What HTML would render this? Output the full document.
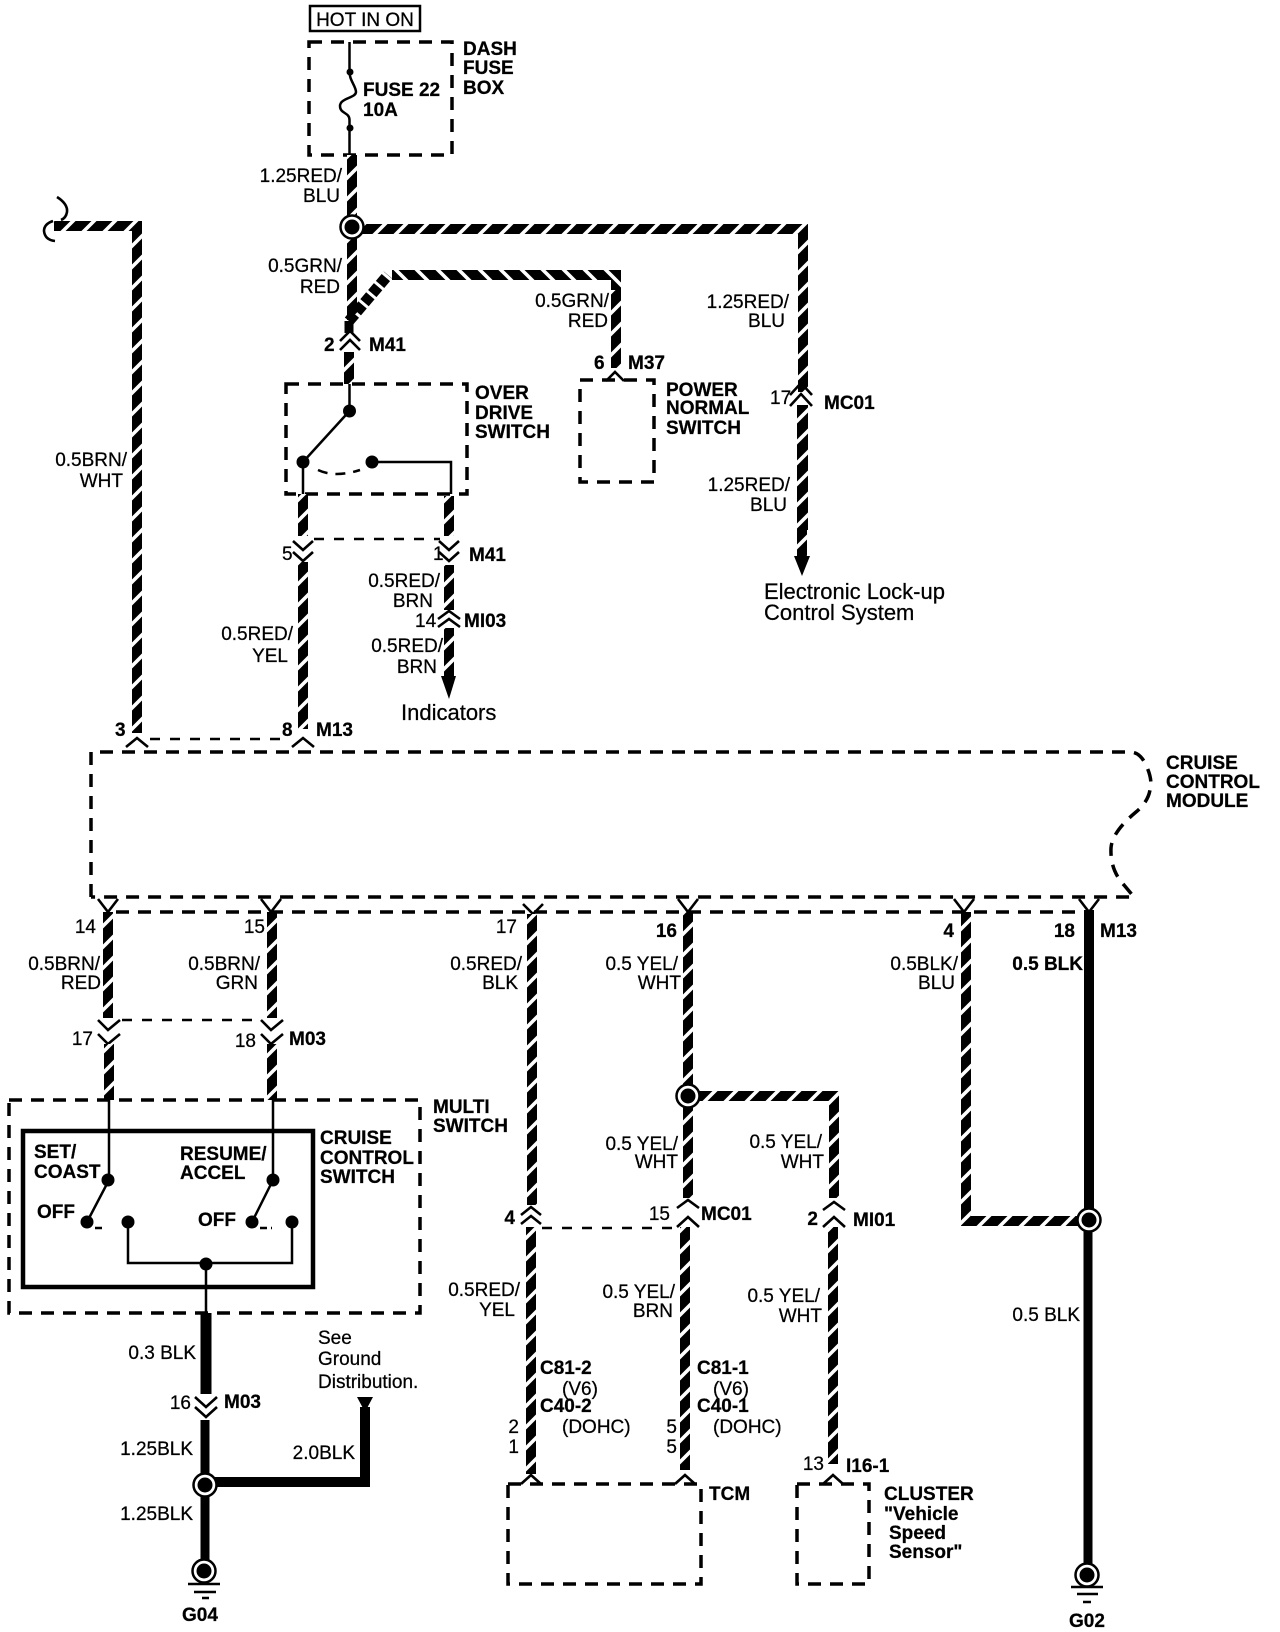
<!DOCTYPE html>
<html><head><meta charset="utf-8"><title>Cruise Control Wiring</title>
<style>
html,body{margin:0;padding:0;background:#fff}
svg{display:block}
text{font-family:"Liberation Sans",Arial,sans-serif;font-size:19px;fill:#000;stroke:#000;stroke-width:.25}
.b{font-weight:bold}
.e{text-anchor:end}
.m{text-anchor:middle}
.l{font-size:22px}
.d{fill:none;stroke:#000;stroke-width:3.5;stroke-dasharray:13 9}
.c{fill:none;stroke:#000;stroke-width:2.5;stroke-dasharray:10 10}
.t{fill:none;stroke:#000;stroke-width:2.5}
.w{fill:none;stroke:url(#t1);stroke-width:10}
.x{fill:none;stroke:url(#t2);stroke-width:10}
.k{fill:none;stroke:#000;stroke-width:10}
.h{fill:none;stroke:#000;stroke-width:2.6}
</style></head><body>
<svg width="1280" height="1632" viewBox="0 0 1280 1632" xmlns="http://www.w3.org/2000/svg">
<defs>
<pattern id="t1" patternUnits="userSpaceOnUse" width="21" height="21">
<rect width="21" height="21" fill="#000"/>
<path d="M0 21L21 0M-5 5L5 -5M16 26L26 16" stroke="#fff" stroke-width="3.6"/>
</pattern>
<pattern id="t2" patternUnits="userSpaceOnUse" width="21" height="21">
<rect width="21" height="21" fill="#000"/>
<path d="M0 0L21 21M-5 16L5 26M16 -5L26 5" stroke="#fff" stroke-width="3.6"/>
</pattern>
</defs>

<!-- top -->
<rect x="310" y="6" width="110" height="25" fill="none" stroke="#000" stroke-width="2.5"/>
<text x="365" y="26" class="m">HOT IN ON</text>
<rect x="309" y="42" width="143" height="113" class="d"/>
<path class="t" d="M349.5 42V71C349 80 356 86 356 92C356 98 340 98 340 106C340 114 349.5 112 349.5 120V155"/>
<circle cx="350" cy="72" r="3.5"/><circle cx="350" cy="128" r="3.5"/>
<text x="463" y="55" class="b">DASH</text><text x="463" y="74" class="b">FUSE</text><text x="463" y="94" class="b">BOX</text>
<text x="363" y="96" class="b">FUSE 22</text><text x="363" y="116" class="b">10A</text>

<!-- main feed -->
<path class="w" d="M352 155V320"/>
<path class="w" d="M352 229H803V530"/>
<path class="w" d="M802 405V556"/>
<path d="M794 556L810 556L802 576Z"/>
<path class="x" d="M392 275H616V300"/>
<path class="w" d="M616 290V368"/>
<path d="M349 321L388 275" fill="none" stroke="#000" stroke-width="11" stroke-dasharray="9 3"/>
<path d="M349 321v12" stroke="#000" stroke-width="9"/>
<circle cx="352" cy="227" r="11.5" fill="#fff" stroke="#000" stroke-width="2.5"/><circle cx="352" cy="227" r="7.5"/>
<path class="h" d="M340 341L350 331L360 341M340 350L350 340L360 350"/>
<path class="w" d="M349 352V384"/>
<path class="t" d="M349.5 384V411L303 462M303 462V494M372 462H451V494"/>
<circle cx="349.5" cy="411" r="6.5"/><circle cx="303" cy="462" r="6.5"/><circle cx="372" cy="462" r="6.5"/>
<path class="t" d="M318 470Q335 478 360 470" stroke-dasharray="10 8"/>
<rect x="286" y="384" width="181" height="110" class="d"/>
<text x="475" y="399" class="b">OVER</text><text x="475" y="419" class="b">DRIVE</text><text x="475" y="438" class="b">SWITCH</text>

<text x="342" y="182" class="e">1.25RED/</text><text x="340" y="202" class="e">BLU</text>
<text x="342" y="272" class="e">0.5GRN/</text><text x="340" y="293" class="e">RED</text>
<text x="324" y="351" class="b">2</text><text x="369" y="351" class="b">M41</text>
<text x="609" y="307" class="e">0.5GRN/</text><text x="608" y="327" class="e">RED</text>
<text x="594" y="369" class="b">6</text><text x="628" y="369" class="b">M37</text>
<path class="h" d="M606 381L615 372L624 381"/>
<rect x="580" y="380" width="74" height="102" class="d"/>
<text x="666" y="396" class="b">POWER</text><text x="666" y="414" class="b">NORMAL</text><text x="666" y="434" class="b">SWITCH</text>
<text x="789" y="308" class="e">1.25RED/</text><text x="785" y="327" class="e">BLU</text>
<text x="770" y="404">17</text><text x="824" y="409" class="b">MC01</text>
<rect x="790" y="392" width="24" height="13" fill="#fff"/>
<path class="h" d="M790 395L801 383L812 395M790 406L801 394L812 406"/>
<text x="790" y="491" class="e">1.25RED/</text><text x="787" y="511" class="e">BLU</text>
<text x="764" y="599" class="l">Electronic Lock-up</text><text x="764" y="620" class="l">Control System</text>

<!-- left long wire -->
<path class="w" d="M54 226H137V733"/>
<path class="h" d="M57 197Q68 204 67 212Q66 218 61 220M53 221Q44 224 44 231Q45 240 55 241"/>
<text x="127" y="466" class="e">0.5BRN/</text><text x="123" y="487" class="e">WHT</text>
<text x="115" y="736" class="b">3</text><text x="282" y="736" class="b">8</text><text x="316" y="736" class="b">M13</text>
<path class="h" d="M126 747L137 738L148 747M292 747L303 738L314 747"/>
<path class="c" d="M150 739H285"/>

<!-- overdrive outputs -->
<path class="w" d="M303 494V536"/>
<path class="w" d="M449 496V536"/>
<path class="h" d="M293 541L303 550L313 541M293 552L303 561L313 552M439 541L449 550L459 541M439 552L449 561L459 552"/>
<path class="c" d="M314 539H440"/>
<path class="w" d="M303 562V729"/>
<path class="w" d="M449 565V610"/>
<text x="282" y="560">5</text><text x="433" y="560">1</text><text x="469" y="561" class="b">M41</text>
<text x="440" y="587" class="e">0.5RED/</text><text x="433" y="607" class="e">BRN</text>
<text x="415" y="627">14</text><text x="464" y="627" class="b">MI03</text>
<path class="h" d="M438 619L449 611L460 619M438 627L449 619L460 627"/>
<path class="w" d="M449 628V676"/>
<path d="M441 676H456L449 699Z"/>
<text x="443" y="652" class="e">0.5RED/</text><text x="437" y="673" class="e">BRN</text>
<text x="401" y="720" class="l">Indicators</text>
<text x="293" y="640" class="e">0.5RED/</text><text x="288" y="662" class="e">YEL</text>

<!-- module -->
<path class="d" d="M91 897V752H1130Q1140 752 1146 765Q1153 780 1150 790Q1148 802 1136 812Q1112 832 1111 848Q1110 870 1124 885L1134 897H91"/>
<path class="d" d="M116 912H1084"/>
<text x="1166" y="769" class="b">CRUISE</text><text x="1166" y="788" class="b">CONTROL</text><text x="1166" y="807" class="b">MODULE</text>
<path class="h" d="M98 899L108 912L118 899M261 899L271 912L281 899M523 904L533 914L543 904M678 899L688 912L698 899M954 899L964 912L974 899M1079 899L1089 912L1099 899"/>
<path class="w" d="M108 912V1018"/>
<path class="w" d="M272 912V1018"/>
<path class="w" d="M532 914V1205"/>
<path class="w" d="M688 912V1198"/>
<path class="w" d="M966 912V1221H1078"/>
<path class="k" d="M1089 910V1213"/>
<path stroke="#000" stroke-width="9" d="M1088 1228V1573" fill="none"/>
<circle cx="1089" cy="1220" r="11.5" fill="#fff" stroke="#000" stroke-width="2.5"/><circle cx="1089" cy="1220" r="7.5"/>
<text x="96" y="933" class="e">14</text><text x="265" y="933" class="e">15</text><text x="517" y="933" class="e">17</text>
<text x="677" y="937" class="e b">16</text><text x="954" y="937" class="e b">4</text><text x="1075" y="937" class="e b">18</text><text x="1100" y="937" class="b">M13</text>
<text x="100" y="970" class="e">0.5BRN/</text><text x="101" y="989" class="e">RED</text>
<text x="260" y="970" class="e">0.5BRN/</text><text x="258" y="989" class="e">GRN</text>
<text x="522" y="970" class="e">0.5RED/</text><text x="518" y="989" class="e">BLK</text>
<text x="678" y="970" class="e">0.5 YEL/</text><text x="681" y="989" class="e">WHT</text>
<text x="958" y="970" class="e">0.5BLK/</text><text x="955" y="989" class="e">BLU</text>
<text x="1083" y="970" class="e b">0.5 BLK</text>

<!-- multi switch -->
<path class="h" d="M98 1020L108 1030L120 1020M98 1034L108 1044L120 1034M261 1020L271 1030L283 1020M261 1034L271 1044L283 1034"/>
<path class="c" d="M122 1020H258"/>
<path class="w" d="M109 1044V1100"/>
<path class="w" d="M272 1044V1100"/>
<text x="93" y="1045" class="e">17</text><text x="256" y="1047" class="e">18</text><text x="289" y="1045" class="b">M03</text>
<rect x="9" y="1100" width="411" height="213" class="d"/>
<text x="433" y="1113" class="b">MULTI</text><text x="433" y="1132" class="b">SWITCH</text>
<rect x="23" y="1131" width="290" height="156" fill="none" stroke="#000" stroke-width="4.5"/>
<text x="320" y="1144" class="b">CRUISE</text><text x="320" y="1164" class="b">CONTROL</text><text x="320" y="1183" class="b">SWITCH</text>
<text x="34" y="1158" class="b">SET/</text><text x="34" y="1178" class="b">COAST</text>
<text x="180" y="1160" class="b">RESUME/</text><text x="180" y="1179" class="b">ACCEL</text>
<text x="37" y="1218" class="b">OFF</text><text x="198" y="1226" class="b">OFF</text>
<path class="t" d="M109 1100V1180L87 1222M273 1100V1180L252 1222M128 1222V1263H292V1222M206 1263V1313"/>
<path class="h" stroke-dasharray="7 4" d="M95 1228H106M260 1228H272"/>
<circle cx="108" cy="1180" r="6.5"/><circle cx="273" cy="1180" r="6.5"/>
<circle cx="87" cy="1222" r="6.5"/><circle cx="128" cy="1222" r="6.5"/>
<circle cx="252" cy="1222" r="6.5"/><circle cx="292" cy="1222" r="6.5"/>
<circle cx="206" cy="1264" r="6.5"/>

<!-- ground left -->
<path stroke="#000" stroke-width="11" d="M206 1313V1394" fill="none"/>
<path class="h" stroke-width="3" d="M195 1397L206 1407L217 1397M195 1407L206 1417L217 1407"/>
<path stroke="#000" stroke-width="9" fill="none" d="M205 1420V1571"/>
<path class="k" d="M205 1482H365V1407"/>
<path d="M357 1397H373L365 1412Z"/>
<circle cx="205" cy="1485" r="11.5" fill="#fff" stroke="#000" stroke-width="2.5"/><circle cx="205" cy="1485" r="7.5"/>
<circle cx="204" cy="1571" r="11.5" fill="#fff" stroke="#000" stroke-width="2.5"/><circle cx="204" cy="1571" r="7.5"/>
<path stroke="#000" stroke-width="2.6" d="M188 1584H220M194 1592H216M202 1598H209"/>
<text x="200" y="1621" class="m b">G04</text>
<text x="196" y="1359" class="e">0.3 BLK</text>
<text x="191" y="1409" class="e">16</text><text x="224" y="1408" class="b">M03</text>
<text x="193" y="1455" class="e">1.25BLK</text><text x="193" y="1520" class="e">1.25BLK</text>
<text x="355" y="1459" class="e">2.0BLK</text>
<text x="318" y="1344">See</text><text x="318" y="1365">Ground</text><text x="318" y="1388">Distribution.</text>

<!-- lower center -->
<path class="w" d="M531 1227V1474"/>
<path class="w" d="M685 1227V1470"/>
<path class="w" d="M688 1096H834V1198"/>
<path class="w" d="M833 1227V1464"/>
<circle cx="688" cy="1096" r="11.5" fill="#fff" stroke="#000" stroke-width="2.5"/><circle cx="688" cy="1096" r="7.5"/>
<path class="h" d="M521 1215L531 1207L541 1215M521 1224L531 1216L541 1224M677 1208L688 1200L699 1208M677 1227L688 1217L699 1227M823 1210L834 1202L845 1210M823 1227L834 1217L845 1227"/>
<path class="c" d="M542 1228H672"/>
<text x="515" y="1224" class="e b">4</text>
<text x="520" y="1296" class="e">0.5RED/</text><text x="515" y="1316" class="e">YEL</text>
<text x="540" y="1374" class="b">C81-2</text><text x="562" y="1395">(V6)</text><text x="540" y="1412" class="b">C40-2</text><text x="562" y="1433">(DOHC)</text>
<text x="519" y="1433" class="e">2</text><text x="519" y="1453" class="e">1</text>
<text x="678" y="1150" class="e">0.5 YEL/</text><text x="678" y="1168" class="e">WHT</text>
<text x="670" y="1220" class="e">15</text><text x="701" y="1220" class="b">MC01</text>
<text x="675" y="1298" class="e">0.5 YEL/</text><text x="673" y="1317" class="e">BRN</text>
<text x="697" y="1374" class="b">C81-1</text><text x="713" y="1395">(V6)</text><text x="697" y="1412" class="b">C40-1</text><text x="713" y="1433">(DOHC)</text>
<text x="677" y="1433" class="e">5</text><text x="677" y="1453" class="e">5</text>
<text x="822" y="1148" class="e">0.5 YEL/</text><text x="824" y="1168" class="e">WHT</text>
<text x="818" y="1225" class="e b">2</text><text x="853" y="1226" class="b">MI01</text>
<text x="820" y="1302" class="e">0.5 YEL/</text><text x="822" y="1322" class="e">WHT</text>
<text x="824" y="1470" class="e">13</text><text x="846" y="1472" class="b">I16-1</text>
<text x="709" y="1500" class="b">TCM</text>
<text x="884" y="1500" class="b">CLUSTER</text><text x="884" y="1520" class="b">"Vehicle</text><text x="889" y="1539" class="b">Speed</text><text x="889" y="1558" class="b">Sensor"</text>
<text x="1080" y="1321" class="e">0.5 BLK</text>
<rect x="508" y="1484" width="193" height="100" class="d"/>
<rect x="797" y="1484" width="72" height="100" class="d"/>
<path class="h" d="M521 1484L531 1475L541 1484M675 1484L685 1475L695 1484M823 1484L833 1475L843 1484"/>

<!-- ground right -->
<circle cx="1087" cy="1575" r="11.5" fill="#fff" stroke="#000" stroke-width="2.5"/><circle cx="1087" cy="1575" r="7.5"/>
<path stroke="#000" stroke-width="2.6" d="M1071 1587H1103M1077 1594H1098M1083 1602H1091"/>
<text x="1087" y="1627" class="m b">G02</text>
</svg>
</body></html>
